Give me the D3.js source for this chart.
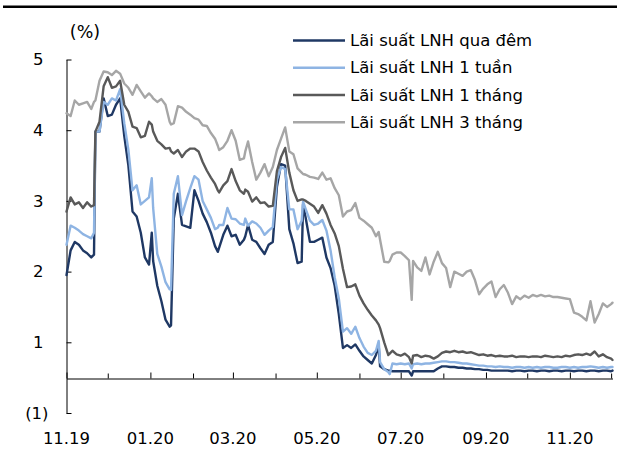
<!DOCTYPE html>
<html>
<head>
<meta charset="utf-8">
<script src="https://cdn.jsdelivr.net/npm/d3@7"></script>
<style>
  html, body { margin: 0; padding: 0; background: #fff; }
  svg { display: block; font-family: "DejaVu Sans", Verdana, sans-serif; }
</style>
</head>
<body>
<svg id="chart" width="617" height="457"></svg>
<script>
// Interbank (LNH) rates, % per year
const dates = [
  "2019-11-01","2019-11-04","2019-11-07","2019-11-10","2019-11-13","2019-11-16","2019-11-19","2019-11-21","2019-11-22","2019-11-25",
  "2019-11-28","2019-12-01","2019-12-04","2019-12-07","2019-12-10","2019-12-13","2019-12-16","2019-12-19","2019-12-22","2019-12-25",
  "2019-12-28","2019-12-31","2020-01-02","2020-01-03","2020-01-06","2020-01-09","2020-01-12","2020-01-15","2020-01-16","2020-01-18",
  "2020-01-21","2020-01-24","2020-01-27","2020-01-30","2020-02-02","2020-02-05","2020-02-08","2020-02-11","2020-02-14","2020-02-17",
  "2020-02-19","2020-02-20","2020-02-23","2020-02-26","2020-02-29","2020-03-03","2020-03-06","2020-03-09","2020-03-10","2020-03-12",
  "2020-03-15","2020-03-18","2020-03-21","2020-03-24","2020-03-27","2020-03-30","2020-04-02","2020-04-05","2020-04-08","2020-04-11",
  "2020-04-14","2020-04-17","2020-04-20","2020-04-21","2020-04-23","2020-04-26","2020-04-29","2020-05-02","2020-05-05","2020-05-08",
  "2020-05-11","2020-05-14","2020-05-17","2020-05-20","2020-05-23","2020-05-26","2020-05-29","2020-06-01","2020-06-04","2020-06-07",
  "2020-06-10","2020-06-13","2020-06-15","2020-06-16","2020-06-19","2020-06-22","2020-06-23","2020-06-25","2020-06-28","2020-07-01",
  "2020-07-04","2020-07-07","2020-07-09","2020-07-10","2020-07-13","2020-07-16","2020-07-19","2020-07-22","2020-07-25","2020-07-28",
  "2020-07-31","2020-08-03","2020-08-06","2020-08-09","2020-08-12","2020-08-15","2020-08-18","2020-08-21","2020-08-24","2020-08-27",
  "2020-08-30","2020-09-02","2020-09-05","2020-09-08","2020-09-11","2020-09-14","2020-09-17","2020-09-20","2020-09-23","2020-09-26",
  "2020-09-29","2020-10-02","2020-10-05","2020-10-08","2020-10-11","2020-10-14","2020-10-17","2020-10-20","2020-10-23","2020-10-26",
  "2020-10-29","2020-11-01","2020-11-04","2020-11-07","2020-11-10","2020-11-13","2020-11-16","2020-11-19","2020-11-22","2020-11-25",
  "2020-11-28","2020-12-01","2020-12-02"
];

const overnight = [
  1.95,2.30,2.42,2.38,2.30,2.26,2.20,2.24,3.98,3.98,
  4.45,4.20,4.22,4.36,4.45,3.92,3.50,2.85,2.78,2.55,
  2.20,2.10,2.55,2.15,1.80,1.58,1.32,1.22,1.24,2.75,
  3.10,2.66,2.64,2.62,3.15,3.00,2.82,2.70,2.55,2.36,
  2.28,2.34,2.52,2.65,2.50,2.52,2.38,2.45,2.50,2.66,
  2.45,2.42,2.33,2.25,2.38,2.42,3.20,3.52,3.50,2.60,
  2.40,2.12,2.14,2.95,2.75,2.42,2.42,2.45,2.48,2.20,
  2.05,1.80,1.40,0.92,0.96,0.92,0.97,0.88,0.80,0.75,
  0.70,0.82,0.95,0.66,0.62,0.60,0.60,0.59,0.59,0.59,
  0.59,0.59,0.53,0.59,0.59,0.59,0.59,0.59,0.59,0.63,
  0.66,0.66,0.65,0.65,0.64,0.64,0.63,0.63,0.62,0.62,
  0.61,0.61,0.60,0.60,0.60,0.60,0.60,0.59,0.60,0.60,
  0.59,0.60,0.60,0.59,0.60,0.60,0.59,0.60,0.60,0.59,
  0.60,0.60,0.59,0.60,0.60,0.59,0.60,0.60,0.59,0.60,
  0.60,0.59,0.60
];

const week1 = [
  2.38,2.65,2.62,2.58,2.53,2.50,2.47,2.55,3.98,3.98,
  4.40,4.36,4.45,4.42,4.58,4.10,3.72,3.15,3.22,2.95,
  3.00,3.05,3.32,2.90,2.25,2.07,1.85,1.75,1.74,3.10,
  3.35,2.80,3.00,3.18,3.35,3.30,3.00,2.88,2.76,2.60,
  2.62,2.66,2.66,2.90,2.75,2.74,2.68,2.66,2.75,2.65,
  2.71,2.68,2.62,2.52,2.58,2.63,3.30,3.48,3.45,2.88,
  2.88,2.60,2.72,2.99,2.88,2.72,2.66,2.68,2.73,2.58,
  2.30,1.92,1.62,1.15,1.20,1.12,1.22,1.06,0.94,0.85,
  0.82,0.88,1.02,0.72,0.62,0.58,0.55,0.70,0.69,0.70,
  0.69,0.70,0.63,0.69,0.70,0.69,0.70,0.70,0.71,0.72,
  0.73,0.73,0.72,0.72,0.71,0.70,0.70,0.69,0.68,0.67,
  0.67,0.66,0.66,0.65,0.66,0.65,0.65,0.64,0.65,0.65,
  0.64,0.65,0.64,0.65,0.64,0.65,0.65,0.64,0.64,0.65,
  0.65,0.64,0.65,0.64,0.65,0.65,0.66,0.65,0.64,0.65,
  0.64,0.65,0.65
];

const month1 = [
  2.85,3.05,2.95,2.98,2.90,2.98,2.92,2.94,3.98,4.12,
  4.62,4.75,4.60,4.62,4.70,4.36,4.26,4.05,4.03,3.90,
  3.92,4.12,4.08,3.98,3.85,3.80,3.74,3.75,3.70,3.67,
  3.72,3.62,3.70,3.74,3.74,3.70,3.55,3.43,3.33,3.24,
  3.15,3.12,3.22,3.28,3.45,3.28,3.15,3.10,3.16,3.13,
  2.99,3.05,2.97,2.98,2.92,2.93,3.42,3.62,3.75,3.40,
  3.15,3.00,3.02,3.02,3.00,2.96,2.92,2.83,2.94,2.82,
  2.66,2.54,2.36,2.04,1.78,1.79,1.82,1.66,1.55,1.46,
  1.38,1.31,1.25,1.20,1.00,0.82,0.84,0.88,0.83,0.81,
  0.84,0.79,0.70,0.81,0.82,0.79,0.81,0.80,0.77,0.80,
  0.85,0.87,0.86,0.88,0.86,0.87,0.85,0.86,0.84,0.82,
  0.83,0.81,0.82,0.80,0.81,0.80,0.80,0.81,0.79,0.80,
  0.80,0.79,0.80,0.80,0.79,0.81,0.80,0.79,0.80,0.79,
  0.81,0.80,0.82,0.83,0.82,0.84,0.82,0.87,0.80,0.83,
  0.79,0.77,0.75
];

const month3 = [
  4.24,4.20,4.42,4.36,4.38,4.40,4.30,4.40,4.42,4.70,
  4.83,4.82,4.78,4.84,4.80,4.66,4.60,4.50,4.64,4.55,
  4.46,4.52,4.48,4.45,4.40,4.44,4.36,4.12,4.08,4.10,
  4.34,4.32,4.26,4.22,4.17,4.15,4.07,4.06,3.96,3.88,
  3.78,3.72,3.76,3.85,4.00,3.85,3.58,3.60,3.70,3.84,
  3.55,3.30,3.40,3.52,3.35,3.48,3.72,3.88,4.04,3.70,
  3.66,3.46,3.40,3.38,3.37,3.34,3.33,3.31,3.40,3.30,
  3.32,3.18,3.08,2.78,2.85,2.87,2.97,2.76,2.72,2.67,
  2.62,2.50,2.56,2.45,2.14,2.13,2.15,2.24,2.27,2.27,
  2.22,2.16,1.60,2.15,2.06,2.01,2.20,1.96,2.14,2.28,
  2.12,2.05,1.78,2.00,1.97,1.94,2.00,2.02,1.88,1.68,
  1.76,1.82,1.86,1.64,1.75,1.81,1.70,1.54,1.65,1.61,
  1.66,1.63,1.67,1.65,1.67,1.65,1.66,1.64,1.64,1.63,
  1.62,1.61,1.42,1.40,1.36,1.31,1.58,1.28,1.40,1.55,
  1.50,1.54,1.56
];

const seriesNames = ["Lãi suất LNH qua đêm", "Lãi suất LNH 1 tuần", "Lãi suất LNH 1 tháng", "Lãi suất LNH 3 tháng"];
const yTickValues = [0, 1, 2, 3, 4, 5];
const yTickLabels = ["(1)", "1", "2", "3", "4", "5"];
const xTickMonths = ["2019-11-01","2019-12-01","2020-01-01","2020-02-01","2020-03-01","2020-04-01","2020-05-01",
                     "2020-06-01","2020-07-01","2020-08-01","2020-09-01","2020-10-01","2020-11-01","2020-12-01"];
const xTickLabels = ["11.19","","01.20","","03.20","","05.20","","07.20","","09.20","","11.20",""];
const xStart = "2019-11-01", xEnd = "2020-12-02";
const axisCross = 0.5;   // value where the horizontal axis crosses

const palette = ["#1F3864", "#8EB4E3", "#595959", "#A6A6A6"];
const fontSize = 16.5;

const parse = d3.timeParse("%Y-%m-%d");
const svg = d3.select("#chart");

const x = d3.scaleTime().domain([parse(xStart), parse(xEnd)]).range([66.5, 612.5]);
const y = d3.scaleLinear().domain([0, 5]).range([413, 59.5]);

// top rule
svg.append("rect").attr("x", 3).attr("y", 5.5).attr("width", 614).attr("height", 2.5).attr("fill", "#000");

// unit label
svg.append("text").attr("x", 85).attr("y", 31.5).attr("dy", "0.35em")
  .attr("text-anchor", "middle").attr("font-size", 17.5).attr("fill", "#000").text("(%)");

// vertical axis
const yAxis = svg.append("g").attr("transform", "translate(66.5,0)")
  .call(d3.axisLeft(y).tickValues(yTickValues).tickSizeInner(-5).tickSizeOuter(0)
    .tickPadding(23).tickFormat((d, i) => yTickLabels[i]));
yAxis.select(".domain").attr("stroke", "#000").attr("stroke-width", 1);
yAxis.selectAll(".tick line").attr("stroke", "#000").attr("stroke-width", 1);
yAxis.selectAll(".tick text").attr("font-size", fontSize).attr("fill", "#000")
  .attr("font-family", "DejaVu Sans, Verdana, sans-serif")
  .attr("x", (d, i) => yTickLabels[i].startsWith("(") ? -18 : -23);

// horizontal axis with monthly ticks
const monthDates = xTickMonths.map(parse);
const xAxisY = Math.round(y(axisCross)) + 0.5;
const xAxis = svg.append("g").attr("transform", `translate(0,${xAxisY})`)
  .call(d3.axisBottom(x).tickValues(monthDates).tickSizeInner(-5).tickSizeOuter(0).tickFormat(""));
xAxis.select(".domain").attr("stroke", "#000").attr("stroke-width", 1);
xAxis.selectAll(".tick line").attr("stroke", "#000").attr("stroke-width", 1)
  .attr("y2", (d, i) => xTickLabels[i] ? -6 : -5);

svg.append("g").selectAll("text").data(monthDates).join("text")
  .attr("x", d => x(d)).attr("y", 438.5).attr("dy", "0.35em")
  .attr("text-anchor", "middle").attr("font-size", fontSize).attr("fill", "#000")
  .text((d, i) => xTickLabels[i]);

// series lines
const series = [overnight, week1, month1, month3];
const line = d3.line().x(d => x(d.date)).y(d => y(d.value));
series.forEach((vals, s) => {
  const pts = dates.map((dt, i) => ({ date: parse(dt), value: vals[i] }));
  svg.append("path").datum(pts)
    .attr("fill", "none").attr("stroke", palette[s]).attr("stroke-width", 2.4)
    .attr("stroke-linejoin", "round").attr("stroke-linecap", "round")
    .attr("d", line);
});

// legend
const legend = svg.append("g").attr("transform", "translate(293,0)");
const rowY = [40.5, 67.7, 95, 122.3];
seriesNames.forEach((name, i) => {
  legend.append("line").attr("x1", 0).attr("x2", 52).attr("y1", rowY[i]).attr("y2", rowY[i])
    .attr("stroke", palette[i]).attr("stroke-width", 2.4);
  legend.append("text").attr("x", 57).attr("y", rowY[i]).attr("dy", "0.35em")
    .attr("font-size", fontSize).attr("fill", "#000").text(name);
});
</script>
</body>
</html>
